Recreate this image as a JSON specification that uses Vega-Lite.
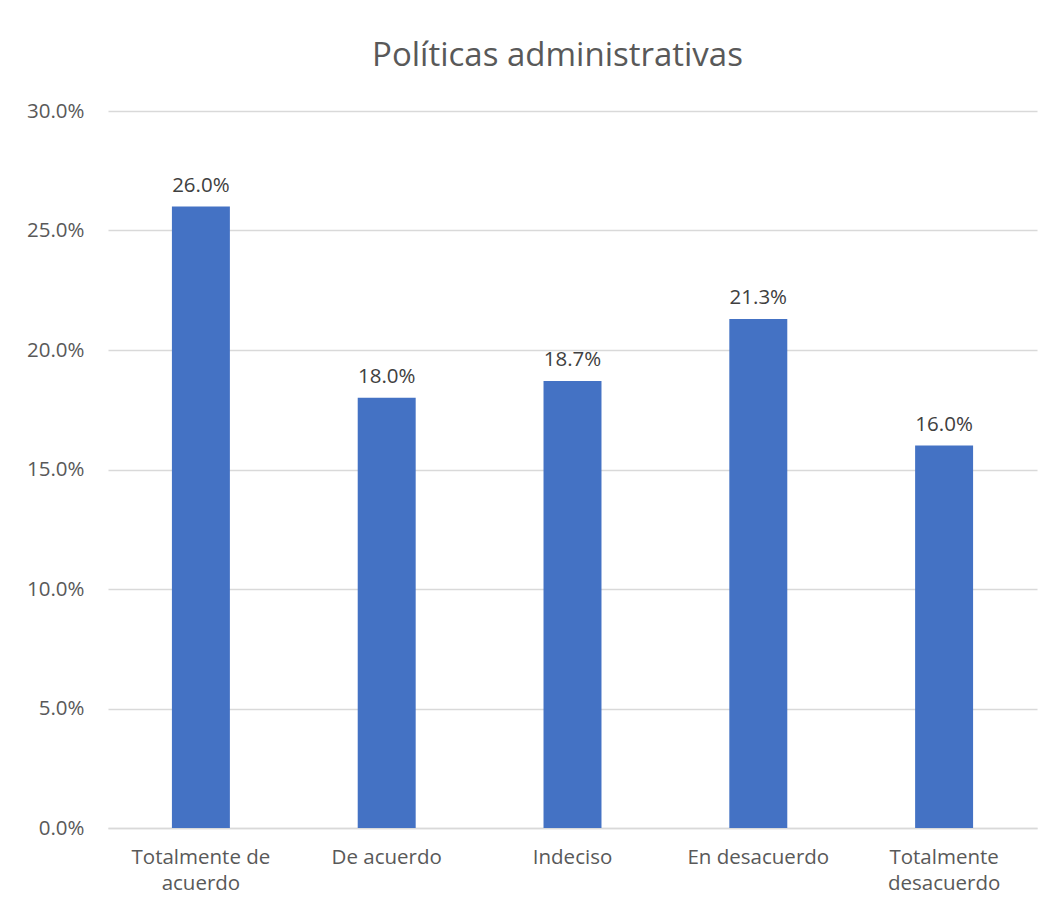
{
  "$schema": "https://vega.github.io/schema/vega-lite/v6.json",
  "autosize": {"type": "none"},
  "width": 929,
  "height": 717,
  "padding": {"left": 108, "top": 111, "right": 19, "bottom": 86},
  "background": "white",
  "config": {
    "font": "Open Sans",
    "view": {"stroke": null}
  },
  "title": {
    "text": "Políticas administrativas",
    "fontSize": 33,
    "fontWeight": "normal",
    "color": "#595959",
    "font": "Open Sans",
    "anchor": "middle",
    "dx": -15,
    "offset": 28
  },
  "data": {
    "values": [
      {"categoria": "Totalmente de acuerdo", "valor": 0.26},
      {"categoria": "De acuerdo", "valor": 0.18},
      {"categoria": "Indeciso", "valor": 0.187},
      {"categoria": "En desacuerdo", "valor": 0.213},
      {"categoria": "Totalmente desacuerdo", "valor": 0.16}
    ]
  },
  "encoding": {
    "x": {
      "field": "categoria",
      "type": "nominal",
      "sort": null,
      "scale": {"paddingInner": 0.688, "paddingOuter": 0.344},
      "axis": {
        "title": null,
        "labelAngle": 0,
        "labelFontSize": 20.5,
        "labelColor": "#595959",
        "labelFont": "Open Sans",
        "labelPadding": 19,
        "labelLineHeight": 26,
        "ticks": false,
        "domain": true,
        "domainColor": "#d9d9d9",
        "domainWidth": 1.5,
        "labelExpr": "datum.value == 'Totalmente de acuerdo' ? ['Totalmente de', 'acuerdo'] : datum.value == 'Totalmente desacuerdo' ? ['Totalmente', 'desacuerdo'] : datum.value"
      }
    },
    "y": {
      "field": "valor",
      "type": "quantitative",
      "scale": {"domain": [0, 0.3], "nice": false},
      "axis": {
        "title": null,
        "format": ".1%",
        "values": [0, 0.05, 0.1, 0.15, 0.2, 0.25, 0.3],
        "labelFontSize": 20.5,
        "labelColor": "#595959",
        "labelFont": "Open Sans",
        "labelPadding": 24,
        "ticks": false,
        "domain": false,
        "gridColor": "#d9d9d9",
        "gridWidth": 1.5
      }
    }
  },
  "layer": [
    {"mark": {"type": "bar", "color": "#4472C4"}},
    {
      "mark": {
        "type": "text",
        "baseline": "bottom",
        "dy": -11,
        "fontSize": 20.5,
        "color": "#404040",
        "font": "Open Sans"
      },
      "encoding": {
        "text": {"field": "valor", "type": "quantitative", "format": ".1%"}
      }
    }
  ]
}
